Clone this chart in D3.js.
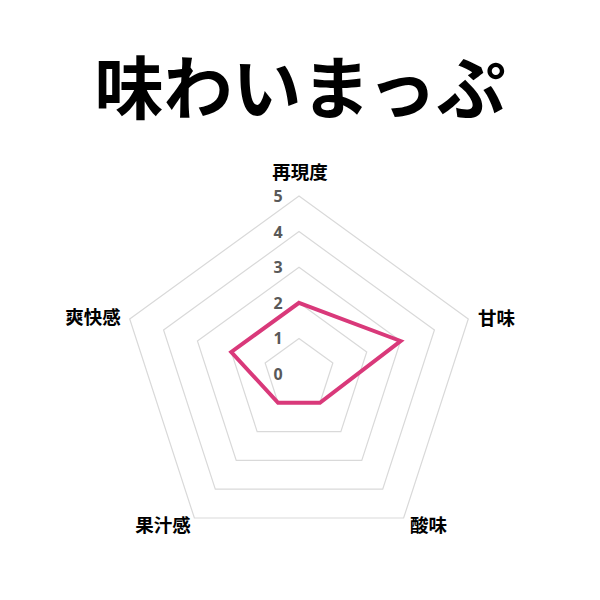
<!DOCTYPE html>
<html><head><meta charset="utf-8">
<script src="https://cdn.jsdelivr.net/npm/d3@7"></script>
<style>html,body{margin:0;padding:0;background:#fff;}</style>
</head><body>
<svg id="chart" width="600" height="600"></svg>
<script>
const title = "味わいまっぷ";
const categories = ["再現度", "甘味", "酸味", "果汁感", "爽快感"];
const values = [2, 3, 1, 1, 2];
const tickValues = [0, 1, 2, 3, 4, 5];

const svg = d3.select("#chart");
const cx = 299, cy = 374, R = 178;
const r = d3.scaleLinear().domain([0, 5]).range([0, R]);
const n = categories.length;
const angle = i => -Math.PI / 2 + i * 2 * Math.PI / n;
const pt = (i, v) => [cx + r(v) * Math.cos(angle(i)), cy + r(v) * Math.sin(angle(i))];
const font = "'Noto Sans CJK JP','Noto Sans',sans-serif";

svg.append("text").attr("x", 300).attr("y", 84)
  .attr("text-anchor", "middle").attr("dominant-baseline", "central")
  .attr("font-family", font).attr("font-weight", 700).attr("font-size", 69)
  .attr("fill", "#000").text(title);

// grid
svg.append("g").selectAll("polygon").data(tickValues.filter(t => t > 0)).join("polygon")
  .attr("points", t => categories.map((c, i) => pt(i, t).join(",")).join(" "))
  .attr("fill", "none").attr("stroke", "#d9d9d9").attr("stroke-width", 1.2);

// tick labels
svg.append("g").selectAll("text").data(tickValues).join("text")
  .attr("x", cx - 21).attr("y", t => cy - r(t))
  .attr("text-anchor", "middle").attr("dominant-baseline", "central")
  .attr("font-family", "'Open Sans','Noto Sans',sans-serif").attr("font-weight", 700)
  .attr("font-size", 16).attr("fill", "#595959").text(t => t);

// data
const line = d3.line().curve(d3.curveLinearClosed);
svg.append("path").attr("d", line(values.map((v, i) => pt(i, v))))
  .attr("fill", "none").attr("stroke", "#D9397A").attr("stroke-width", 4)
  .attr("stroke-linejoin", "miter");

// category labels
const labelPos = [
  {x: 300, y: 171, a: "middle"},
  {x: 478, y: 317, a: "start"},
  {x: 410, y: 524, a: "start"},
  {x: 163, y: 524, a: "middle"},
  {x: 93, y: 316, a: "middle"}
];
svg.append("g").selectAll("text").data(categories).join("text")
  .attr("x", (d, i) => labelPos[i].x).attr("y", (d, i) => labelPos[i].y)
  .attr("text-anchor", (d, i) => labelPos[i].a).attr("dominant-baseline", "central")
  .attr("font-family", font).attr("font-weight", 700).attr("font-size", 18.5)
  .attr("fill", "#000").text(d => d);
</script>
</body></html>
